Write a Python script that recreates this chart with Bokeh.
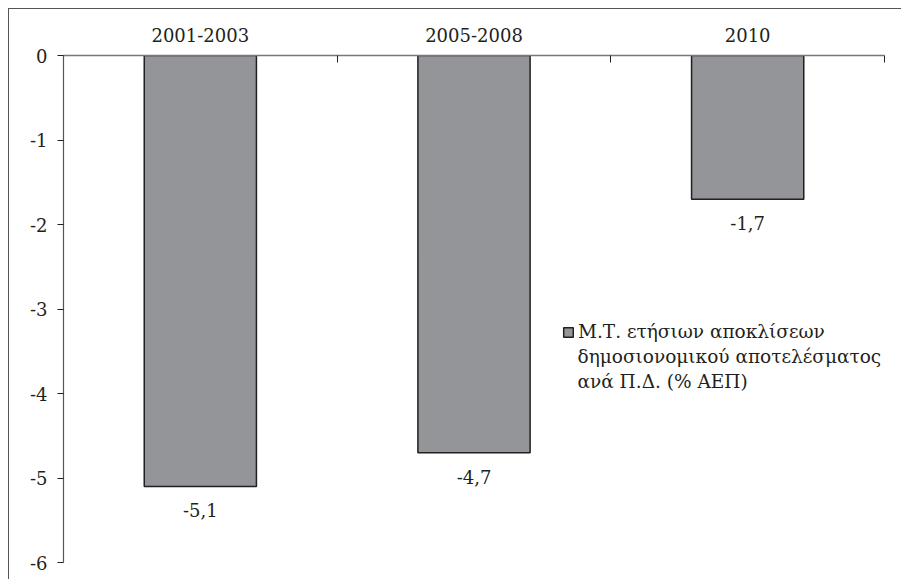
from bokeh.plotting import figure
from bokeh.models import (Range1d, LinearAxis, FixedTicker, Legend, LegendItem,
                          Label, ColumnDataSource)
from bokeh.core.properties import value
from bokeh.embed import file_html
from bokeh.resources import INLINE

# ---- data ----
categories = ["2001-2003", "2005-2008", "2010"]
values = [-5.1, -4.7, -1.7]
y_ticks = [0, -1, -2, -3, -4, -5, -6]
legend_lines = ["Μ.Τ. ετήσιων αποκλίσεων",
                "δημοσιονομικού αποτελέσματος",
                "ανά Π.Δ. (% ΑΕΠ)"]

FONT = "DejaVu Serif"
FS = "18px"
LFS = "18.5px"
TXT = "#231f20"

xs = list(range(len(categories)))
labels = [f"{v:.1f}".replace(".", ",") for v in values]
src = ColumnDataSource(dict(x=xs, top=values, lab=labels))

p = figure(width=893, height=571,
           x_range=Range1d(-0.5, len(categories) - 0.5),
           y_range=Range1d(min(y_ticks), max(y_ticks)),
           output_backend="svg", toolbar_location=None,
           x_axis_location=None,
           min_border_left=54, min_border_top=46,
           min_border_right=18, min_border_bottom=18)
p.margin = (8, 0, 0, 8)
p.styles = {"border-top": "1px solid #555555", "border-left": "1px solid #555555"}
p.outline_line_color = None
p.xgrid.visible = False
p.ygrid.visible = False
p.background_fill_color = "white"
p.border_fill_color = "white"

bars = p.vbar(x="x", top="top", bottom=0, width=0.41, source=src,
              fill_color="#939598", line_color="#231f20", line_width=1.5)

p.text(x="x", y="top", text="lab", source=src, y_offset=24,
       text_align="center", text_baseline="middle",
       text_font=value(FONT), text_font_size=FS, text_color=TXT)

# top category axis: labels at bar centres, tick marks at category boundaries
xa = LinearAxis(ticker=FixedTicker(ticks=xs,
                                   minor_ticks=[i - 0.5 for i in range(len(categories) + 1)]))
xa.major_label_overrides = {i: c for i, c in zip(xs, categories)}
xa.major_tick_in = 0
xa.major_tick_out = 0
xa.minor_tick_in = 7
xa.minor_tick_out = 0
xa.minor_tick_line_color = "#231f20"
xa.axis_line_color = "#777777"
xa.axis_line_width = 1.5
xa.major_label_standoff = 14
xa.major_label_text_font = FONT
xa.major_label_text_font_size = FS
xa.major_label_text_color = TXT
p.add_layout(xa, "above")

ya = p.yaxis[0]
ya.ticker = FixedTicker(ticks=y_ticks, minor_ticks=[])
ya.major_label_overrides = {t: str(t) for t in y_ticks}
ya.major_tick_in = 0
ya.major_tick_out = 6
ya.major_tick_line_color = "#231f20"
ya.axis_line_color = "#555555"
ya.axis_line_width = 1.2
ya.major_label_standoff = 10
ya.major_label_text_font = FONT
ya.major_label_text_font_size = FS
ya.major_label_text_color = TXT

legend = Legend(items=[LegendItem(label=legend_lines[0], renderers=[bars])],
                location=(499, 220), padding=0, margin=0,
                glyph_width=12, glyph_height=12, label_standoff=4,
                border_line_color=None, background_fill_alpha=0,
                label_text_font=FONT, label_text_font_size=LFS,
                label_text_color=TXT)
p.add_layout(legend)

for i, line in enumerate(legend_lines[1:], start=1):
    p.add_layout(Label(x=514, y=231 - 25 * i, x_units="screen", y_units="screen",
                       text=line, text_baseline="middle",
                       text_font=FONT, text_font_size=LFS, text_color=TXT))

open("out.html", "w").write(file_html(p, INLINE))
